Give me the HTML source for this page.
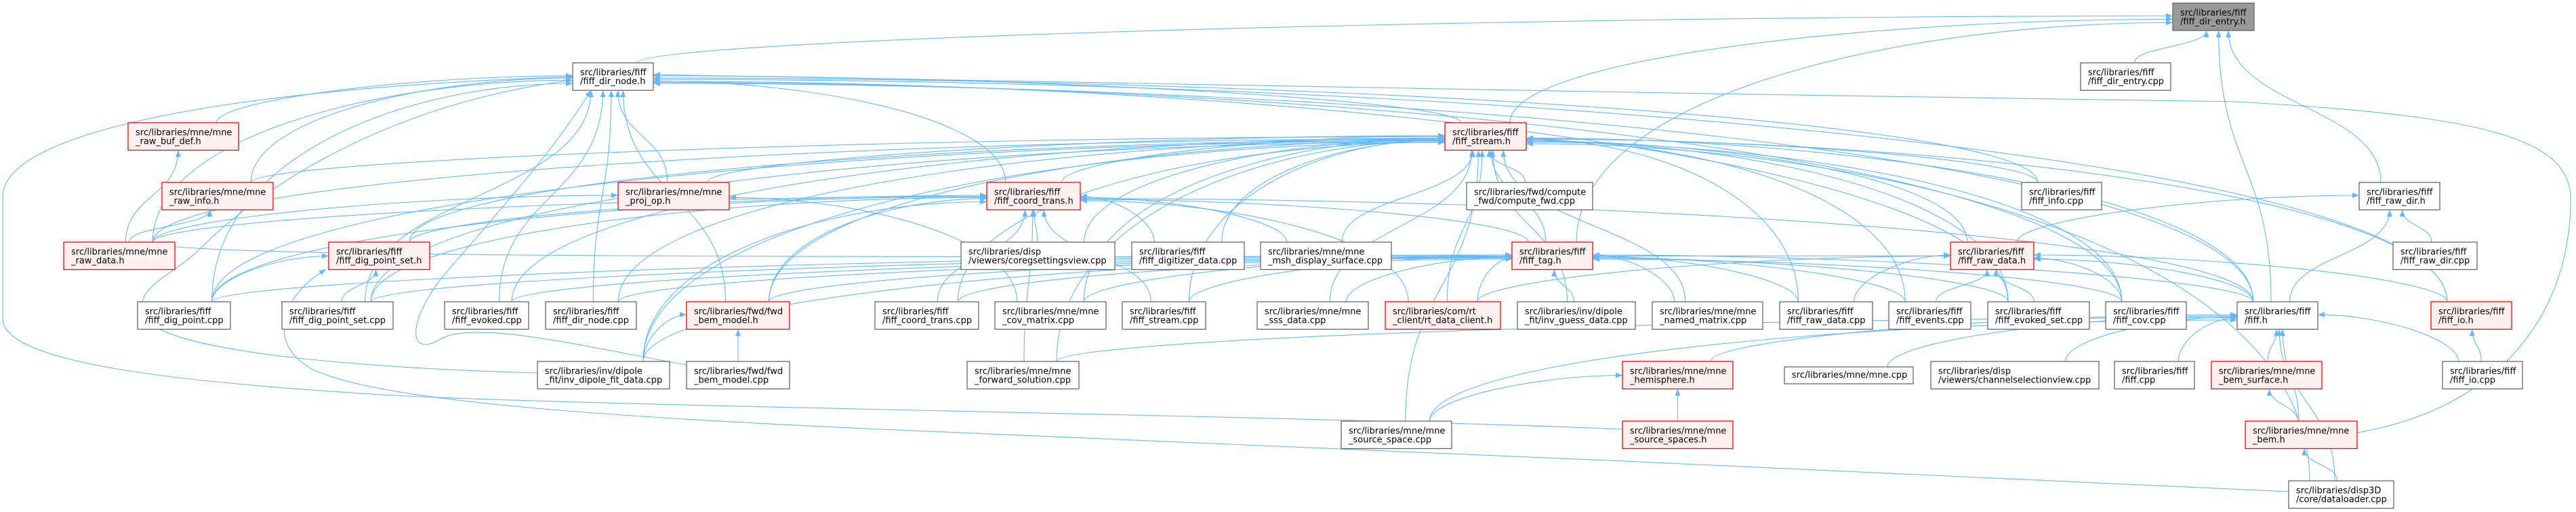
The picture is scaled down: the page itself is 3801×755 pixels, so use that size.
<!DOCTYPE html>
<html><head><meta charset="utf-8">
<style>
html,body{margin:0;padding:0;background:#fff;}
svg{display:block;}
text{font-family:"DejaVu Sans","Liberation Sans",sans-serif;font-size:13px;fill:#000;}
.w rect{fill:#fff;stroke:#666;stroke-width:1.3;}
.r rect{fill:#fff0f0;stroke:#f00;stroke-width:1.3;}
.g rect{fill:#999;stroke:#666;stroke-width:1.3;}
#edges path{fill:none;stroke:#63b8ff;stroke-width:1.1;}
</style></head>
<body>
<svg id="svg" width="3801" height="755" viewBox="0 0 3801 755" xmlns="http://www.w3.org/2000/svg">
<defs><marker id="ah" markerWidth="12" markerHeight="10" refX="10" refY="4" orient="auto" markerUnits="userSpaceOnUse"><path d="M0,0 L10,4 L0,8 z" fill="#63b8ff" stroke="none"/></marker></defs>
<g id="edges">
<path d="M2394,633 C1900,612 900,600 580,583 C300,566 4,540 4,470 L4,290 C4,200 300,132 845,113" marker-end="url(#ah)"/>
<path d="M3377,725 C2800,700 1800,650 1300,633 C900,615 560,592 462,545 C395,510 410,440 481,397" marker-end="url(#ah)"/>
<path d="M793,550 C600,545 260,525 218,472 C185,430 255,405 290,372 C340,320 520,160 845,118" marker-end="url(#ah)"/>
<path d="M1013,538 C880,515 700,470 650,500 C600,530 600,470 660,400 C720,330 820,220 872,133" marker-end="url(#ah)"/>
<path d="M3478,638 C3700,600 3795,450 3793,290 C3790,200 3650,170 3300,150 C2500,140 1500,118 964,110" marker-end="url(#ah)"/>
</g>
<g id="nodes">
<g class="g"><rect x="3206" y="4.5" width="120" height="40.5"/><text x="3217" y="23">src/libraries/fiff</text><text x="3217" y="36">/fiff_dir_entry.h</text></g>
<g class="w"><rect x="845" y="92.7" width="119" height="40.5"/><text x="856" y="111.2">src/libraries/fiff</text><text x="856" y="124.2">/fiff_dir_node.h</text></g>
<g class="w"><rect x="3070" y="92.7" width="133" height="40.5"/><text x="3081" y="111.2">src/libraries/fiff</text><text x="3081" y="124.2">/fiff_dir_entry.cpp</text></g>
<g class="r"><rect x="189" y="181" width="163" height="40.5"/><text x="200" y="199.5">src/libraries/mne/mne</text><text x="200" y="212.5">_raw_buf_def.h</text></g>
<g class="r"><rect x="2132" y="181" width="120" height="40.5"/><text x="2143" y="199.5">src/libraries/fiff</text><text x="2143" y="212.5">/fiff_stream.h</text></g>
<g class="r"><rect x="239" y="269" width="164" height="40.5"/><text x="250" y="287.5">src/libraries/mne/mne</text><text x="250" y="300.5">_raw_info.h</text></g>
<g class="r"><rect x="912" y="269" width="164" height="40.5"/><text x="923" y="287.5">src/libraries/mne/mne</text><text x="923" y="300.5">_proj_op.h</text></g>
<g class="r"><rect x="1456" y="269" width="138" height="40.5"/><text x="1467" y="287.5">src/libraries/fiff</text><text x="1467" y="300.5">/fiff_coord_trans.h</text></g>
<g class="w"><rect x="2164" y="269" width="186" height="40.5"/><text x="2175" y="287.5">src/libraries/fwd/compute</text><text x="2175" y="300.5">_fwd/compute_fwd.cpp</text></g>
<g class="w"><rect x="2983" y="269" width="118" height="40.5"/><text x="2994" y="287.5">src/libraries/fiff</text><text x="2994" y="300.5">/fiff_info.cpp</text></g>
<g class="w"><rect x="3481" y="269" width="119" height="40.5"/><text x="3492" y="287.5">src/libraries/fiff</text><text x="3492" y="300.5">/fiff_raw_dir.h</text></g>
<g class="r"><rect x="94" y="357" width="164" height="40.5"/><text x="105" y="375.5">src/libraries/mne/mne</text><text x="105" y="388.5">_raw_data.h</text></g>
<g class="r"><rect x="485" y="357" width="149" height="40.5"/><text x="496" y="375.5">src/libraries/fiff</text><text x="496" y="388.5">/fiff_dig_point_set.h</text></g>
<g class="w"><rect x="1418" y="357" width="227" height="40.5"/><text x="1429" y="375.5">src/libraries/disp</text><text x="1429" y="388.5">/viewers/coregsettingsview.cpp</text></g>
<g class="w"><rect x="1670" y="357" width="166" height="40.5"/><text x="1681" y="375.5">src/libraries/fiff</text><text x="1681" y="388.5">/fiff_digitizer_data.cpp</text></g>
<g class="w"><rect x="1860" y="357" width="193" height="40.5"/><text x="1871" y="375.5">src/libraries/mne/mne</text><text x="1871" y="388.5">_msh_display_surface.cpp</text></g>
<g class="r"><rect x="2231" y="357" width="119" height="40.5"/><text x="2242" y="375.5">src/libraries/fiff</text><text x="2242" y="388.5">/fiff_tag.h</text></g>
<g class="r"><rect x="2878" y="357" width="123" height="40.5"/><text x="2889" y="375.5">src/libraries/fiff</text><text x="2889" y="388.5">/fiff_raw_data.h</text></g>
<g class="w"><rect x="3531" y="357" width="124" height="40.5"/><text x="3542" y="375.5">src/libraries/fiff</text><text x="3542" y="388.5">/fiff_raw_dir.cpp</text></g>
<g class="w"><rect x="203" y="445" width="137" height="40.5"/><text x="214" y="463.5">src/libraries/fiff</text><text x="214" y="476.5">/fiff_dig_point.cpp</text></g>
<g class="w"><rect x="416" y="445" width="164" height="40.5"/><text x="427" y="463.5">src/libraries/fiff</text><text x="427" y="476.5">/fiff_dig_point_set.cpp</text></g>
<g class="w"><rect x="656" y="445" width="124" height="40.5"/><text x="667" y="463.5">src/libraries/fiff</text><text x="667" y="476.5">/fiff_evoked.cpp</text></g>
<g class="w"><rect x="805" y="445" width="134" height="40.5"/><text x="816" y="463.5">src/libraries/fiff</text><text x="816" y="476.5">/fiff_dir_node.cpp</text></g>
<g class="r"><rect x="1013" y="445" width="152" height="40.5"/><text x="1024" y="463.5">src/libraries/fwd/fwd</text><text x="1024" y="476.5">_bem_model.h</text></g>
<g class="w"><rect x="1291" y="445" width="153" height="40.5"/><text x="1302" y="463.5">src/libraries/fiff</text><text x="1302" y="476.5">/fiff_coord_trans.cpp</text></g>
<g class="w"><rect x="1468" y="445" width="164" height="40.5"/><text x="1479" y="463.5">src/libraries/mne/mne</text><text x="1479" y="476.5">_cov_matrix.cpp</text></g>
<g class="w"><rect x="1656" y="445" width="123" height="40.5"/><text x="1667" y="463.5">src/libraries/fiff</text><text x="1667" y="476.5">/fiff_stream.cpp</text></g>
<g class="w"><rect x="1855" y="445" width="164" height="40.5"/><text x="1866" y="463.5">src/libraries/mne/mne</text><text x="1866" y="476.5">_sss_data.cpp</text></g>
<g class="r"><rect x="2044" y="445" width="170" height="40.5"/><text x="2055" y="463.5">src/libraries/com/rt</text><text x="2055" y="476.5">_client/rt_data_client.h</text></g>
<g class="w"><rect x="2239" y="445" width="174" height="40.5"/><text x="2250" y="463.5">src/libraries/inv/dipole</text><text x="2250" y="476.5">_fit/inv_guess_data.cpp</text></g>
<g class="w"><rect x="2438" y="445" width="163" height="40.5"/><text x="2449" y="463.5">src/libraries/mne/mne</text><text x="2449" y="476.5">_named_matrix.cpp</text></g>
<g class="w"><rect x="2626" y="445" width="137" height="40.5"/><text x="2637" y="463.5">src/libraries/fiff</text><text x="2637" y="476.5">/fiff_raw_data.cpp</text></g>
<g class="w"><rect x="2787" y="445" width="121" height="40.5"/><text x="2798" y="463.5">src/libraries/fiff</text><text x="2798" y="476.5">/fiff_events.cpp</text></g>
<g class="w"><rect x="2933" y="445" width="150" height="40.5"/><text x="2944" y="463.5">src/libraries/fiff</text><text x="2944" y="476.5">/fiff_evoked_set.cpp</text></g>
<g class="w"><rect x="3107" y="445" width="119" height="40.5"/><text x="3118" y="463.5">src/libraries/fiff</text><text x="3118" y="476.5">/fiff_cov.cpp</text></g>
<g class="w"><rect x="3301" y="445" width="119" height="40.5"/><text x="3312" y="463.5">src/libraries/fiff</text><text x="3312" y="476.5">/fiff.h</text></g>
<g class="r"><rect x="3587" y="445" width="119" height="40.5"/><text x="3598" y="463.5">src/libraries/fiff</text><text x="3598" y="476.5">/fiff_io.h</text></g>
<g class="w"><rect x="793" y="533" width="195" height="40.5"/><text x="804" y="551.5">src/libraries/inv/dipole</text><text x="804" y="564.5">_fit/inv_dipole_fit_data.cpp</text></g>
<g class="w"><rect x="1013" y="533" width="152" height="40.5"/><text x="1024" y="551.5">src/libraries/fwd/fwd</text><text x="1024" y="564.5">_bem_model.cpp</text></g>
<g class="w"><rect x="1427" y="533" width="165" height="40.5"/><text x="1438" y="551.5">src/libraries/mne/mne</text><text x="1438" y="564.5">_forward_solution.cpp</text></g>
<g class="r"><rect x="2394" y="533" width="163" height="40.5"/><text x="2405" y="551.5">src/libraries/mne/mne</text><text x="2405" y="564.5">_hemisphere.h</text></g>
<g class="w"><rect x="2633" y="541" width="190" height="25"/><text x="2644" y="557">src/libraries/mne/mne.cpp</text></g>
<g class="w"><rect x="2849" y="533" width="248" height="40.5"/><text x="2860" y="551.5">src/libraries/disp</text><text x="2860" y="564.5">/viewers/channelselectionview.cpp</text></g>
<g class="w"><rect x="3120" y="533" width="118" height="40.5"/><text x="3131" y="551.5">src/libraries/fiff</text><text x="3131" y="564.5">/fiff.cpp</text></g>
<g class="r"><rect x="3263" y="533" width="163" height="40.5"/><text x="3274" y="551.5">src/libraries/mne/mne</text><text x="3274" y="564.5">_bem_surface.h</text></g>
<g class="w"><rect x="3604" y="533" width="118" height="40.5"/><text x="3615" y="551.5">src/libraries/fiff</text><text x="3615" y="564.5">/fiff_io.cpp</text></g>
<g class="w"><rect x="1979" y="621" width="163" height="40.5"/><text x="1990" y="639.5">src/libraries/mne/mne</text><text x="1990" y="652.5">_source_space.cpp</text></g>
<g class="r"><rect x="2394" y="621" width="163" height="40.5"/><text x="2405" y="639.5">src/libraries/mne/mne</text><text x="2405" y="652.5">_source_spaces.h</text></g>
<g class="r"><rect x="3313" y="621" width="165" height="40.5"/><text x="3324" y="639.5">src/libraries/mne/mne</text><text x="3324" y="652.5">_bem.h</text></g>
<g class="w"><rect x="3377" y="709" width="155" height="40.5"/><text x="3388" y="727.5">src/libraries/disp3D</text><text x="3388" y="740.5">/core/dataloader.cpp</text></g>
</g>
</svg>
<script>
(function(){
var R=[4.5,92.7,181,269,357,445,533,621,709],H=40.5;
function n(x1,x2,r){return [x1,R[r],x2-x1,H];}
var N={
A:n(3206,3326,0),B:n(845,964,1),C:n(3070,3203,1),D:n(189,352,2),E:n(2132,2252,2),
F:n(239,403,3),G:n(912,1076,3),H:n(1456,1594,3),I:n(2164,2350,3),J:n(2983,3101,3),K:n(3481,3600,3),
L:n(94,258,4),M:n(485,634,4),N:n(1418,1645,4),O:n(1670,1836,4),P:n(1860,2053,4),Q:n(2231,2350,4),R:n(2878,3001,4),S:n(3531,3655,4),
T:n(203,340,5),U:n(416,580,5),V:n(656,780,5),W:n(805,939,5),X:n(1013,1165,5),Y:n(1291,1444,5),Z:n(1468,1632,5),
AA:n(1656,1779,5),AB:n(1855,2019,5),AC:n(2044,2214,5),AD:n(2239,2413,5),AE:n(2438,2601,5),AF:n(2626,2763,5),
AG:n(2787,2908,5),AH:n(2933,3083,5),AI:n(3107,3226,5),AJ:n(3301,3420,5),AK:n(3587,3706,5),
AL:n(793,988,6),AM:n(1013,1165,6),AN:n(1427,1592,6),AO:n(2394,2557,6),AP:[2633,541,190,25],AQ:n(2849,3097,6),
AR:n(3120,3238,6),AS:n(3263,3426,6),AT:n(3604,3722,6),
AU:n(1979,2142,7),AV:n(2394,2557,7),AW:n(3313,3478,7),AX:n(3377,3532,8)};
var E={
A:"B C E Q AJ K",
B:"D F L G T U V W X H E J AH AI AJ AK",
E:"H I N O P G F L T U V W X AL Y Z AA AB AC AD AE AF AG AH AI AJ AK Q J R AU AN AX M",
H:"N O P Y Q T U X AN AL M L AJ AA AC",
Q:"T U V W Y Z AA AB AC AD AE AF AG AH AI AJ AL X",
R:"AF AG AH AI AJ AK AC L",
K:"R S AJ",
AJ:"AO AP AQ AR AS AT AW AX AN AU",
AK:"AT",AS:"AW",AW:"AX",AO:"AV AU",X:"AL AM",M:"U T",F:"L",D:"L",G:"L Z"};
function cl(v,a,b){return Math.max(a,Math.min(b,v));}
var g=document.getElementById('edges'),ns="http://www.w3.org/2000/svg";
for(var p in E){var cs=E[p].split(" ");
 for(var i=0;i<cs.length;i++){var c=cs[i],C=N[c],P=N[p];
  var ccx=C[0]+C[2]/2,pcx=P[0]+P[2]/2,dx=pcx-ccx,dy=C[1]-(P[1]+P[3]);
  var sx,sy=C[1],ex,ey,d;
  if(Math.abs(dx)>dy*1.6+P[2]/2){
   var sg=dx>0?1:-1;
   sx=ccx+sg*C[2]*0.3;
   ex=dx>0?P[0]:P[0]+P[2];
   ey=P[1]+P[3]/2+cl((C[1]-P[1])*0.02+((i%5)-2)*1.5,-14,14);
   var k=Math.abs(ex-sx)*0.45;
   d="M"+sx.toFixed(1)+","+sy+" C"+sx.toFixed(1)+","+(sy-dy*0.7).toFixed(1)+" "+(ex-sg*k).toFixed(1)+","+ey.toFixed(1)+" "+ex+","+ey.toFixed(1);
  }else{
   sx=ccx+cl(dx*0.1,-C[2]*0.35,C[2]*0.35);
   ex=pcx+cl(-dx*0.08,-P[2]/2+10,P[2]/2-10);
   ey=P[1]+P[3];
   d="M"+sx.toFixed(1)+","+sy+" C"+sx.toFixed(1)+","+(sy-dy*0.5).toFixed(1)+" "+ex.toFixed(1)+","+(ey+dy*0.5).toFixed(1)+" "+ex.toFixed(1)+","+ey;
  }
  var e=document.createElementNS(ns,"path");e.setAttribute("d",d);e.setAttribute("marker-end","url(#ah)");g.appendChild(e);
 }}
})();
</script>
</body></html>
